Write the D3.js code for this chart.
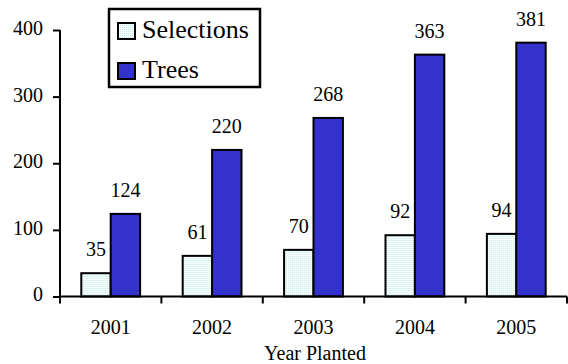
<!DOCTYPE html>
<html>
<head>
<meta charset="utf-8">
<script src="https://cdn.jsdelivr.net/npm/d3@7"></script>
</head>
<body style="margin:0;background:#fff">
<svg id="chart" width="568" height="364" font-family="Liberation Serif"></svg>
<script>
// Data
const years = ["2001", "2002", "2003", "2004", "2005"];
const seriesNames = ["Selections", "Trees"];
const selections = [35, 61, 70, 92, 94];
const trees = [124, 220, 268, 363, 381];
const yTicks = [0, 100, 200, 300, 400];

const seriesValues = [selections, trees];
const fills = ["url(#dots)", "#3333cc"];

const svg = d3.select("#chart");

// Dotted pale fill for the Selections bars
const defs = svg.append("defs");
const pat = defs.append("pattern")
  .attr("id", "dots").attr("patternUnits", "userSpaceOnUse")
  .attr("width", 2).attr("height", 2);
pat.append("rect").attr("width", 2).attr("height", 2).attr("fill", "#f6fdfd");
pat.append("rect").attr("width", 1).attr("height", 1).attr("fill", "#c4e8e8");

const plotLeft = 60, plotRight = 567, plotTop = 30, plotBottom = 296.5;

const x = d3.scaleBand().domain(years).range([plotLeft, plotRight])
  .paddingInner(0.42).paddingOuter(0.21);
const x1 = d3.scaleBand().domain(seriesNames).range([0, x.bandwidth()]);
const y = d3.scaleLinear().domain([0, 400]).range([plotBottom, plotTop]);

// Bars
const groups = svg.append("g").selectAll("g")
  .data(years).join("g")
  .attr("transform", d => `translate(${x(d)},0)`);

const rowsFor = (d, i) => seriesNames.map((s, k) => ({ s, k, v: seriesValues[k][i] }));

groups.selectAll("rect")
  .data(rowsFor)
  .join("rect")
  .attr("x", d => x1(d.s))
  .attr("y", d => y(d.v))
  .attr("width", x1.bandwidth())
  .attr("height", d => y(0) - y(d.v))
  .attr("fill", d => fills[d.k])
  .attr("stroke", "#000")
  .attr("stroke-width", 2);

// Value labels
groups.selectAll("text.val")
  .data(rowsFor)
  .join("text")
  .attr("class", "val")
  .attr("x", d => x1(d.s) + x1.bandwidth() / 2)
  .attr("y", d => y(d.v) - 17)
  .attr("text-anchor", "middle")
  .attr("font-size", 20)
  .text(d => d.v);

// Y axis
const yAxis = svg.append("g")
  .attr("transform", `translate(${plotLeft},0)`)
  .call(d3.axisLeft(y).tickValues(yTicks).tickSize(7).tickPadding(10));
yAxis.attr("font-family", null).attr("font-size", 20);
yAxis.select(".domain").attr("stroke", "#000").attr("stroke-width", 2)
  .attr("d", `M0,${plotTop}V${plotBottom}`);
yAxis.selectAll(".tick line").attr("stroke", "#000").attr("stroke-width", 2);
yAxis.selectAll(".tick text").attr("dy", "0.22em");

// X axis: line with tick marks between the categories, labels centred under each group
const xg = svg.append("g");
xg.append("line")
  .attr("x1", plotLeft).attr("x2", plotRight)
  .attr("y1", plotBottom).attr("y2", plotBottom)
  .attr("stroke", "#000").attr("stroke-width", 2);
const gap = (x.step() - x.bandwidth()) / 2;
const boundaries = years.map(d => x(d) - gap).concat([x(years[years.length - 1]) + x.bandwidth() + gap]);
xg.selectAll("line.tk").data(boundaries).join("line")
  .attr("class", "tk")
  .attr("x1", d => d).attr("x2", d => d)
  .attr("y1", plotBottom).attr("y2", plotBottom + 7)
  .attr("stroke", "#000").attr("stroke-width", 2);
xg.selectAll("text").data(years).join("text")
  .attr("x", d => x(d) + x.bandwidth() / 2)
  .attr("y", 334)
  .attr("text-anchor", "middle")
  .attr("font-size", 20)
  .text(d => d);

svg.append("text")
  .attr("x", 315).attr("y", 360)
  .attr("text-anchor", "middle")
  .attr("font-size", 20)
  .text("Year Planted");

// Legend
const lg = svg.append("g");
lg.append("rect")
  .attr("x", 109).attr("y", 9).attr("width", 151).attr("height", 78)
  .attr("fill", "#fff").attr("stroke", "#000").attr("stroke-width", 2.5);
const items = lg.selectAll("g").data(seriesNames).join("g")
  .attr("transform", (d, i) => `translate(118,${23 + i * 40})`);
items.append("rect")
  .attr("width", 17).attr("height", 16)
  .attr("fill", (d, i) => fills[i])
  .attr("stroke", "#000").attr("stroke-width", 2);
items.append("text")
  .attr("x", 24).attr("y", 15)
  .attr("font-size", 26)
  .text(d => d);

svg.selectAll("text").attr("fill", "#000");
</script>
</body>
</html>
